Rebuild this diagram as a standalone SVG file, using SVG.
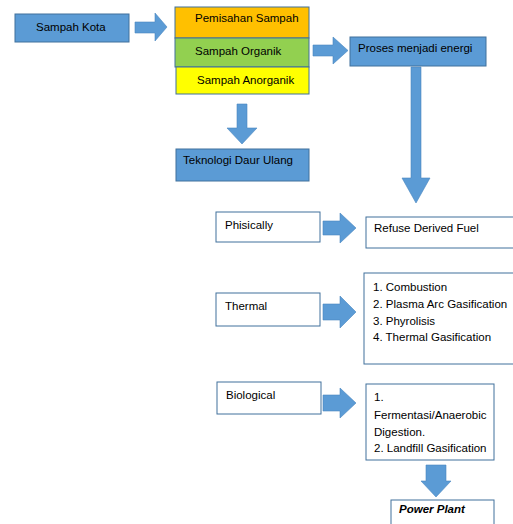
<svg xmlns="http://www.w3.org/2000/svg" width="513" height="524" viewBox="0 0 513 524">
<style>
text{font-family:"Liberation Sans",Arial,sans-serif;font-size:11.5px;fill:#000}
.blue{fill:#5B9BD5;stroke:#41719C;stroke-width:1}
.white{fill:#fff;stroke:#41719C;stroke-width:1}
.arr{fill:#5B9BD5;stroke:#4A86C0;stroke-width:0.6}
</style>
<rect width="513" height="524" fill="#fff"/>
<g id="connectors">
<path class="arr" d="M135,22 H155 V13 L167,27 L155,41 V33 H135 Z"/>
<path class="arr" d="M237,104 H247 V128 H257 L242,144 L227,128 H237 Z"/>
<path class="arr" d="M313,45 H333 V37 L348,50.5 L333,64 V56 H313 Z"/>
<path class="arr" d="M411,67 H421 V178 H430 L416,203 L402,178 H411 Z"/>
<path class="arr" d="M323,221 H340 V213 L356,228 L340,243 V235 H323 Z"/>
<path class="arr" d="M323,304 H340 V296 L356,312 L340,328 V320 H323 Z"/>
<path class="arr" d="M323,395 H340 V388 L356,403 L340,418 V411 H323 Z"/>
<path class="arr" d="M426,465 H446 V481 H451 L436,497 L421,481 H426 Z"/>
</g>
<g id="sampah-kota"><rect class="blue" x="15" y="14" width="114" height="28"/><text x="36" y="31">Sampah Kota</text></g>
<g id="pemisahan"><rect x="175" y="7" width="134" height="31" fill="#FFC000" stroke="#41719C"/><text x="195" y="22">Pemisahan Sampah</text></g>
<g id="organik"><rect x="175" y="38" width="134" height="29" fill="#92D050" stroke="#41719C"/><text x="195" y="55">Sampah Organik</text></g>
<g id="anorganik"><rect x="176" y="67" width="133" height="27" fill="#FFFF00" stroke="#41719C"/><text x="197" y="84">Sampah Anorganik</text></g>
<g id="teknologi"><rect class="blue" x="176" y="149" width="133" height="32"/><text x="183" y="164">Teknologi Daur Ulang</text></g>
<g id="proses"><rect class="blue" x="350" y="37" width="136" height="29"/><text x="358" y="52">Proses menjadi energi</text></g>
<g id="phisically"><rect class="white" x="216" y="212" width="104" height="30"/><text x="225" y="229">Phisically</text></g>
<g id="rdf"><rect class="white" x="366" y="217" width="150" height="31"/><text x="374" y="232">Refuse Derived Fuel</text></g>
<g id="thermal"><rect class="white" x="216" y="293" width="104" height="33"/><text x="225" y="310">Thermal</text></g>
<g id="thermal-list"><rect class="white" x="364" y="273" width="152" height="91"/>
<text x="373" y="291">1. Combustion</text><text x="373" y="308">2. Plasma Arc Gasification</text><text x="373" y="325">3. Phyrolisis</text><text x="373" y="341">4. Thermal Gasification</text></g>
<g id="biological"><rect class="white" x="217" y="382" width="104" height="32"/><text x="226" y="399">Biological</text></g>
<g id="bio-list"><rect class="white" x="366" y="384" width="128" height="76"/>
<text x="374" y="401">1.</text><text x="374" y="419">Fermentasi/Anaerobic</text><text x="374" y="436">Digestion.</text><text x="374" y="452">2. Landfill Gasification</text></g>
<g id="power-plant"><rect class="white" x="391" y="500" width="103" height="30"/><text x="399" y="513" font-weight="bold" font-style="italic">Power Plant</text></g>
</svg>
